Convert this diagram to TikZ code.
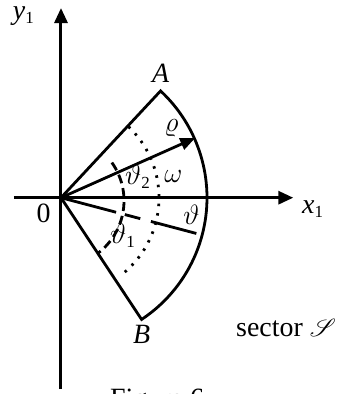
\RequirePackage{fix-cm}
\documentclass[tikz,border=0pt]{standalone}
\usepackage{mathrsfs}
\usepackage[no-math]{fontspec}
\setmainfont{Liberation Serif}
\usetikzlibrary{arrows.meta}
\newcommand{\mysub}[1]{\raisebox{-4.5bp}{\fontsize{17}{17}\selectfont #1}}
\begin{document}
\begin{tikzpicture}[x=1bp,y=1bp,
  font=\fontsize{28}{32}\selectfont,
  axis/.style={line width=3bp,-{Triangle[length=15bp,width=13bp]}},
  edge/.style={line width=2.8bp},
  lbl/.style={inner sep=0pt}]
\useasboundingbox (-61,-196.3) rectangle (278,197.7);
\coordinate (O) at (0,0);
\coordinate (ytop) at (0,189.7);
\coordinate (ybot) at (0,-191.3);
\coordinate (xl) at (-47,0);
\coordinate (xr) at (232.3,0);
\coordinate (A) at (47:146);
\coordinate (B) at (-56.5:146);
\coordinate (R) at (24:147);
\coordinate (T1) at (-14.8:57);
\coordinate (T2) at (-14.8:66);
\coordinate (T3) at (-14.8:82);
\coordinate (T4) at (-14.8:93);
\coordinate (T) at (-14.8:140);
\coordinate (C) at (-3,-3);
% axes
\draw[axis] (ybot) -- (ytop);
\draw[axis] (xl) -- (xr);
% sector
\draw[edge,line join=miter] (O) -- (A) arc[start angle=47,end angle=-56.5,radius=146] -- cycle;
% rho arrow
\draw[edge,-{Triangle[length=15bp,width=12bp]}] (O) -- (R);
% theta ray
\draw[edge] (O) -- (T1);
\draw[edge] (T2) -- (T3);
\draw[edge] (T4) -- (T);
% dashed arc
\draw[edge,dash pattern=on 9bp off 5bp,shift={(C)}] (35.3:66) arc[start angle=35.3,end angle=-52.9,radius=66];
% dotted arc
\draw[edge,dash pattern=on 2.5bp off 7bp] (46.5:98) arc[start angle=46.5,end angle=-50,radius=98];
% labels
\node[lbl,anchor=base west] (ly) at (-48.3,178.7) {\textit{y}\mysub{1}};
\node[lbl,anchor=base west] (lx) at (241,-15.3) {\textit{x}\mysub{1}};
\node[lbl] (l0) at (-17.5,-15.3) {0};
\node[lbl] (lA) at (99.7,124.2) {\textit{A}};
\node[lbl] (lB) at (80.7,-136.3) {\textit{B}};
\node[lbl] (lrho) at (110.5,69.7) {$\varrho$};
\node[lbl,anchor=base west] (lt2) at (64,13.7) {$\vartheta$\mysub{2}};
\node[lbl] (lom) at (112.5,21.7) {$\omega$};
\node[lbl] (lt) at (130.5,-17.3) {$\vartheta$};
\node[lbl,anchor=base west] (lt1) at (49,-45.3) {$\vartheta$\mysub{1}};
\node[lbl,anchor=base west] (ls) at (175,-139) {sector $\mathscr{S}$};
\node[lbl,anchor=base west] (lf) at (49,-209.3) {Figure 6};
\end{tikzpicture}
\end{document}
